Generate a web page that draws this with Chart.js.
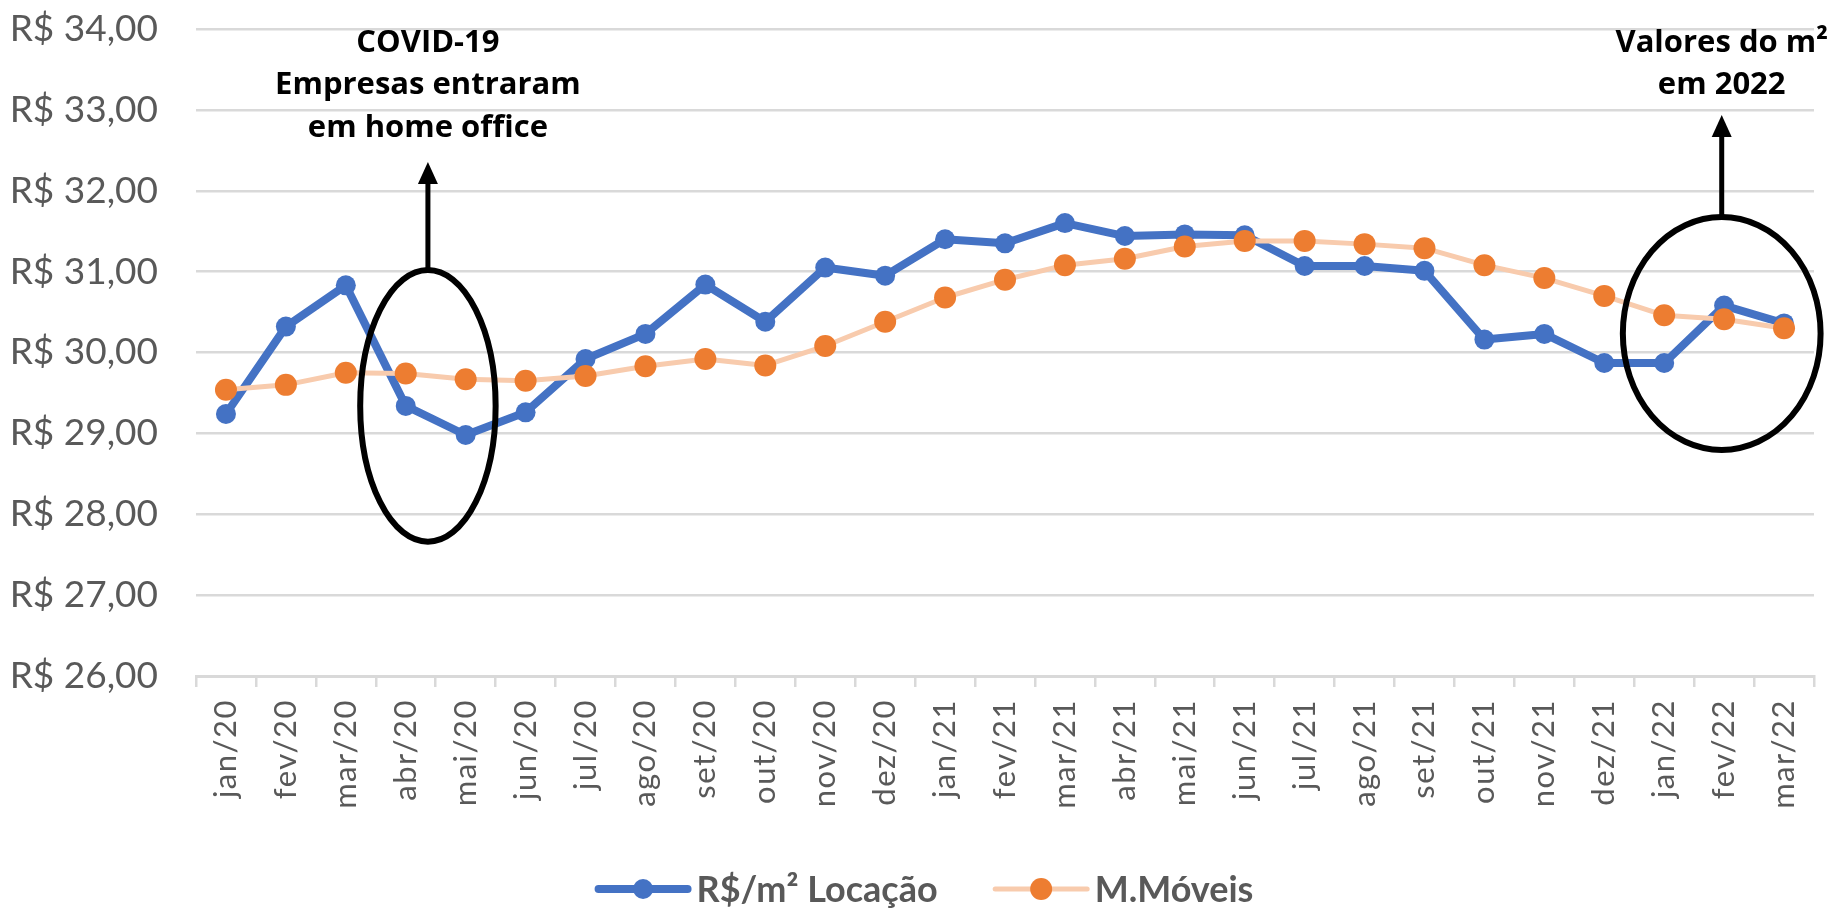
<!DOCTYPE html>
<html lang="pt-BR">
<head>
<meta charset="utf-8">
<title>R$/m² Locação x M.Móveis</title>
<script src="https://cdn.jsdelivr.net/npm/chart.js@4.4.1/dist/chart.umd.min.js"></script>
<style>
  html, body { margin: 0; padding: 0; background: #fff; }
  .chart-container { position: relative; width: 1834px; height: 910px; }
</style>
</head>
<body>
<div class="chart-container"><canvas id="chartCanvas"></canvas></div>
<script>
// Meses (eixo x)
const meses = ['jan/20', 'fev/20', 'mar/20', 'abr/20', 'mai/20', 'jun/20', 'jul/20', 'ago/20', 'set/20',
    'out/20', 'nov/20', 'dez/20', 'jan/21', 'fev/21', 'mar/21', 'abr/21', 'mai/21', 'jun/21',
    'jul/21', 'ago/21', 'set/21', 'out/21', 'nov/21', 'dez/21', 'jan/22', 'fev/22', 'mar/22'];

// R$/m² Locação
const locacao = [29.24, 30.32, 30.83, 29.34, 28.98, 29.26, 29.92, 30.23, 30.84, 30.38, 31.05, 30.95, 31.40,
    31.35, 31.60, 31.44, 31.46, 31.45, 31.07, 31.07, 31.01, 30.16, 30.23, 29.87, 29.87, 30.58, 30.36];

// M.Móveis
const moveis = [29.54, 29.60, 29.75, 29.74, 29.67, 29.65, 29.71, 29.83, 29.92, 29.84, 30.08, 30.38, 30.68,
    30.90, 31.08, 31.16, 31.31, 31.38, 31.38, 31.34, 31.29, 31.08, 30.92, 30.70, 30.46, 30.41, 30.30];

// Eixo y
const yMin = 26;
const yMax = 34;

// Destaques (em coordenadas do gráfico: índice do mês e valor em R$)
const destaques = [
    { linhas: ['COVID-19', 'Empresas entraram', 'em home office'], mes: 3.37, texto: 33.716,
      valor: 29.34, raioX: 1.13, raioY: 1.68, seta: 32.355 },
    { linhas: ['Valores do m²', 'em 2022'], mes: 24.96, texto: 33.716,
      valor: 30.235, raioX: 1.65, raioY: 1.44, seta: 32.937 }
];

const formatoReal = v => 'R$ ' + v.toFixed(2).replace('.', ',');

// Espaçamento entre letras nos rótulos do eixo x
const espacoRotulos = {
    id: 'espacoRotulos',
    afterLayout(chart) {
        const sc = chart.scales.x;
        if (sc._comEspaco) return;
        const original = sc.drawLabels;
        sc.drawLabels = function (area) {
            this.ctx.save();
            this.ctx.letterSpacing = '1.5px';
            original.call(this, area);
            this.ctx.restore();
        };
        sc._comEspaco = true;
    }
};

// Elipses, setas e textos
const anotacoes = {
    id: 'anotacoes',
    afterDatasetsDraw(chart) {
        const { ctx, scales: { x, y } } = chart;
        ctx.save();
        ctx.strokeStyle = '#000';
        ctx.fillStyle = '#000';
        destaques.forEach(d => {
            const cx = x.getPixelForValue(d.mes);
            const cy = y.getPixelForValue(d.valor);
            const rx = x.getPixelForValue(d.mes + d.raioX) - cx;
            const ry = y.getPixelForValue(d.valor - d.raioY) - cy;
            ctx.lineWidth = 6;
            ctx.beginPath();
            ctx.ellipse(cx, cy, rx, ry, 0, 0, Math.PI * 2);
            ctx.stroke();

            const ponta = y.getPixelForValue(d.seta);
            ctx.lineWidth = 5;
            ctx.beginPath();
            ctx.moveTo(cx, cy - ry);
            ctx.lineTo(cx, ponta + 18);
            ctx.stroke();
            ctx.beginPath();
            ctx.moveTo(cx, ponta);
            ctx.lineTo(cx - 10, ponta + 22);
            ctx.lineTo(cx + 10, ponta + 22);
            ctx.closePath();
            ctx.fill();

            ctx.font = '700 31px "Open Sans"';
            ctx.textAlign = 'center';
            ctx.textBaseline = 'alphabetic';
            const base = y.getPixelForValue(d.texto);
            d.linhas.forEach((t, i) => ctx.fillText(t, cx, base + i * 42.5));
        });
        ctx.restore();
    }
};

// Legenda com linha e marcador
const legenda = {
    id: 'legenda',
    afterDraw(chart) {
        const ctx = chart.ctx;
        const yLeg = 889;
        const amostra = 97, folga = 5, entre = 55;
        ctx.save();
        ctx.font = '700 36px Lato';
        ctx.textBaseline = 'middle';
        ctx.textAlign = 'left';
        const itens = chart.data.datasets.map(ds => ({ ds, w: ctx.measureText(ds.label).width }));
        const total = itens.reduce((s, it) => s + amostra + folga + it.w, 0) + entre * (itens.length - 1);
        let x0 = 924 - total / 2;
        itens.forEach(({ ds, w }) => {
            ctx.strokeStyle = ds.borderColor;
            ctx.lineWidth = ds.borderWidth;
            ctx.lineCap = 'round';
            ctx.beginPath();
            ctx.moveTo(x0 + ds.borderWidth / 2, yLeg);
            ctx.lineTo(x0 + amostra - ds.borderWidth / 2, yLeg);
            ctx.stroke();
            ctx.fillStyle = ds.pointBackgroundColor;
            ctx.beginPath();
            ctx.arc(x0 + amostra / 2, yLeg, ds.pointRadius, 0, Math.PI * 2);
            ctx.fill();
            ctx.fillStyle = '#595959';
            ctx.fillText(ds.label, x0 + amostra + folga, yLeg + 1);
            x0 += amostra + folga + w + entre;
        });
        ctx.restore();
    }
};

Chart.defaults.font.family = 'Lato';
Chart.defaults.color = '#595959';

const chartCanvas = document.getElementById('chartCanvas');
const chart = new Chart(chartCanvas, {
    type: 'line',
    data: {
        labels: meses,
        datasets: [
            {
                label: 'R$/m² Locação',
                data: locacao,
                borderColor: '#4472C4',
                backgroundColor: '#4472C4',
                pointBackgroundColor: '#4472C4',
                borderWidth: 8,
                pointRadius: 10,
                pointBorderWidth: 0,
                borderJoinStyle: 'round',
                borderCapStyle: 'round',
                tension: 0,
                order: 1
            },
            {
                label: 'M.Móveis',
                data: moveis,
                borderColor: '#F8CBAD',
                backgroundColor: '#ED7D31',
                pointBackgroundColor: '#ED7D31',
                borderWidth: 5,
                pointRadius: 11,
                pointBorderWidth: 0,
                borderJoinStyle: 'round',
                tension: 0,
                order: 0
            }
        ]
    },
    options: {
        responsive: true,
        maintainAspectRatio: false,
        animation: false,
        layout: { padding: { top: 0, right: 20, bottom: 94, left: 0 } },
        plugins: {
            legend: { display: false },
            tooltip: { enabled: false }
        },
        scales: {
            x: {
                offset: true,
                grid: {
                    offset: true,
                    drawOnChartArea: false,
                    drawTicks: true,
                    tickLength: 11,
                    color: '#D9D9D9',
                    lineWidth: 2.5
                },
                border: { color: '#D9D9D9', width: 3 },
                ticks: {
                    autoSkip: false,
                    minRotation: 90,
                    maxRotation: 90,
                    padding: 12,
                    color: '#595959',
                    font: { family: 'Lato', size: 31 }
                },
                afterFit(scale) { scale.height = 140; }
            },
            y: {
                min: yMin,
                max: yMax,
                grid: { color: '#D9D9D9', lineWidth: 2.5, drawTicks: false },
                border: { display: false },
                ticks: {
                    stepSize: 1,
                    padding: 38,
                    color: '#595959',
                    font: { family: 'Lato', size: 37 },
                    callback: v => formatoReal(v)
                },
                afterFit(scale) {
                    scale.width = 196;
                    scale.paddingTop = 29;
                    scale.paddingBottom = 0;
                }
            }
        }
    },
    plugins: [espacoRotulos, anotacoes, legenda]
});
</script>
</body>
</html>
